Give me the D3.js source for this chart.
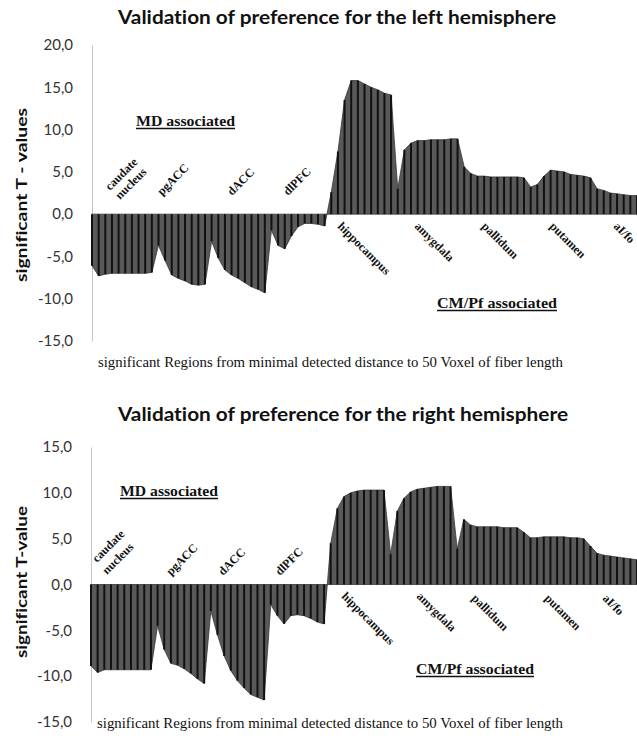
<!DOCTYPE html>
<html><head><meta charset="utf-8">
<script src="https://cdn.jsdelivr.net/npm/d3@7"></script>
<style>body{margin:0;background:#fff} svg{display:block} text{font-variant-ligatures:none;font-feature-settings:"liga" 0,"clig" 0}</style>
</head><body>
<svg id="c" width="637" height="738"></svg>
<script>
// ---------- data ----------
const upperRegions = [["caudate","nucleus"],["pgACC"],["dACC"],["dlPFC"]];
const lowerRegions = ["hippocampus","amygdala","pallidum","putamen","aI/fo"];

const leftValues = [
  -6.1,-7.3,-7.1,-7.0,-7.0,-7.0,-7.0,-7.0,-7.0,-6.9,
  -3.7,-5.5,-7.2,-7.6,-7.9,-8.3,-8.4,-8.3,
  -3.2,-5.2,-6.6,-7.2,-7.6,-8.1,-8.6,-8.9,-9.3,
  -1.9,-3.7,-4.1,-2.6,-1.5,-1.1,-1.1,-1.2,-1.4,
  2.6,7.4,13.5,15.8,15.8,15.4,15.0,14.7,14.3,14.1,
  3.0,7.6,8.4,8.7,8.7,8.8,8.8,8.8,8.9,8.9,
  5.6,4.8,4.5,4.5,4.4,4.4,4.4,4.4,4.4,4.3,
  3.2,3.5,4.5,5.2,5.1,5.0,4.7,4.6,4.5,4.3,
  3.0,2.8,2.5,2.4,2.3,2.2,2.2
];
const rightValues = [
  -8.9,-9.6,-9.3,-9.3,-9.3,-9.3,-9.3,-9.3,-9.3,-9.3,
  -4.5,-7.1,-8.6,-8.8,-9.2,-9.7,-10.3,-10.8,
  -2.9,-5.5,-7.8,-9.4,-10.5,-11.3,-12.0,-12.3,-12.6,
  -2.2,-3.4,-4.3,-3.4,-3.3,-3.4,-3.7,-4.1,-4.3,
  4.5,8.3,9.6,10.0,10.2,10.3,10.3,10.3,10.3,
  3.3,8.0,9.4,10.1,10.4,10.5,10.6,10.7,10.7,10.7,
  3.9,7.1,6.5,6.3,6.3,6.3,6.3,6.2,6.2,6.2,
  5.7,5.1,5.1,5.2,5.2,5.2,5.2,5.1,5.1,5.0,
  4.2,3.4,3.2,3.1,3.0,2.9,2.8,2.7
];
const leftTicks = [20,15,10,5,0,-5,-10,-15];
const rightTicks = [15,10,5,0,-5,-10,-15];
const titles = ["Validation of preference for the left hemisphere","Validation of preference for the right hemisphere"];
const yTitles = ["significant T - values","significant T-value"];
const xTitle = "significant Regions from minimal  detected distance to 50 Voxel of fiber length";
const mdLabel = "MD associated";
const cmLabel = "CM/Pf associated";

// ---------- layout ----------
const SANS = "Lato, 'Open Sans', sans-serif";
const SERIF = "'Liberation Serif', 'DejaVu Serif', serif";
const svg = d3.select("#c");

const charts = [
  {values:leftValues, ticks:leftTicks, title:titles[0], yTitle:yTitles[0],
   yDomain:[-15,20], yRange:[341,45], xRange:[92,637], titleY:24, titleX:[118,556],
   yTitlePos:[22,195], yTitleLen:174,
   upperPos:[[110,191],[162,196],[232,196],[288,196]], lineOff:[10,9],
   lowerPos:[[337,227],[414,227],[481,227],[549,227],[613,227]],
   md:{x:136,w:99,y:126}, cm:{x:437,w:120,y:308}, xt:{x:98,w:465,y:367}},
  {values:rightValues, ticks:rightTicks, title:titles[1], yTitle:yTitles[1],
   yDomain:[-15,15], yRange:[722,447], xRange:[91,637], titleY:421, titleX:[118,568],
   yTitlePos:[22,582], yTitleLen:152,
   upperPos:[[97,563],[171,576],[223,576],[280,576]], lineOff:[10,12],
   lowerPos:[[341,597],[416,597],[471,599],[544,599],[602,599]],
   md:{x:120,w:98,y:496}, cm:{x:416,w:118,y:674}, xt:{x:97,w:466,y:728}}
];

charts.forEach(c => {
  const g = svg.append("g");
  const x = d3.scaleLinear().domain([0, c.values.length-1]).range(c.xRange);
  const y = d3.scaleLinear().domain(c.yDomain).range(c.yRange);

  // title
  g.append("text").attr("x", c.titleX[0]).attr("y", c.titleY)
    .attr("textLength", c.titleX[1]-c.titleX[0]).attr("lengthAdjust","spacingAndGlyphs")
    .style("font-family", SANS).style("font-weight", 700).style("font-size","18px")
    .attr("fill","#111").text(c.title);

  // y axis
  const ax = g.append("g").attr("transform", `translate(${c.xRange[0]},0)`)
    .call(d3.axisLeft(y).tickValues(c.ticks).tickSize(0).tickPadding(19)
      .tickFormat(d => d.toFixed(1).replace(".", ",")));
  ax.select(".domain").attr("stroke","#c4c4c4").attr("stroke-width",1);
  ax.selectAll("text").style("font-family", SANS).style("font-size","15px").attr("fill","#333");

  // y title
  g.append("text").attr("transform", `translate(${c.yTitlePos[0]},${c.yTitlePos[1]}) rotate(-90)`)
    .attr("text-anchor","middle").attr("dy","0.35em")
    .attr("textLength", c.yTitleLen).attr("lengthAdjust","spacingAndGlyphs")
    .style("font-family", SANS).style("font-weight",700).style("font-size","15px")
    .attr("fill","#111").text(c.yTitle);

  // area
  const area = d3.area().x((d,i)=>x(i)).y0(y(0)).y1(d=>y(d));
  g.append("path").datum(c.values).attr("d", area)
    .attr("fill","#595959").attr("stroke","#3a3a3a").attr("stroke-width",0.8);
  // drop lines
  g.selectAll("line.v").data(c.values).join("line").attr("class","v")
    .attr("x1",(d,i)=>x(i)).attr("x2",(d,i)=>x(i))
    .attr("y1", y(0)).attr("y2", d=>y(d))
    .attr("stroke","#111").attr("stroke-width",2);

  // upper region labels (rotated -45)
  upperRegions.forEach((lines, k) => {
    const [px, py] = c.upperPos[k];
    lines.forEach((t, j) => {
      g.append("text")
        .attr("transform", `translate(${px + j*c.lineOff[0]},${py + j*c.lineOff[1]}) rotate(-45)`)
        .style("font-family", SERIF).style("font-weight",700).style("font-size","12px")
        .attr("fill","#111").text(t);
    });
  });
  // lower region labels (rotated +45)
  lowerRegions.forEach((t, k) => {
    const [px, py] = c.lowerPos[k];
    g.append("text").attr("transform", `translate(${px},${py}) rotate(45)`)
      .style("font-family", SERIF).style("font-weight",700).style("font-size","12px")
      .attr("fill","#111").text(t);
  });

  // MD / CM labels underlined
  [[mdLabel, c.md],[cmLabel, c.cm]].forEach(([t, p]) => {
    g.append("text").attr("x", p.x).attr("y", p.y)
      .attr("textLength", p.w).attr("lengthAdjust","spacingAndGlyphs")
      .style("font-family", SERIF).style("font-weight",700).style("font-size","15px")
      .attr("fill","#111").text(t);
    g.append("line").attr("x1", p.x).attr("x2", p.x + p.w)
      .attr("y1", p.y + 2.5).attr("y2", p.y + 2.5)
      .attr("stroke","#111").attr("stroke-width",1.3);
  });

  // x title
  g.append("text").attr("x", c.xt.x).attr("y", c.xt.y)
    .attr("textLength", c.xt.w).attr("lengthAdjust","spacingAndGlyphs")
    .style("font-family", SERIF).style("font-size","14px")
    .attr("fill","#111").text(xTitle);
});
</script>
</body></html>
